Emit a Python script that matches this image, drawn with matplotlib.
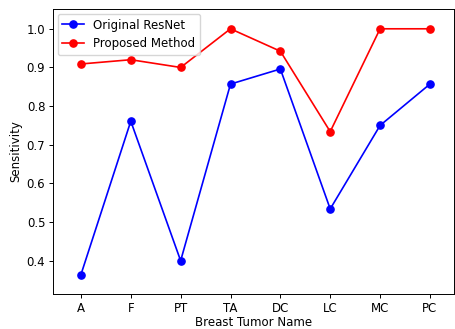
import matplotlib.pyplot as plt

categories = ['A', 'F', 'PT', 'TA', 'DC', 'LC', 'MC', 'PC']
resnet = [0.364, 0.761, 0.400, 0.857, 0.896, 0.534, 0.750, 0.857]
proposed = [0.909, 0.920, 0.900, 1.000, 0.942, 0.734, 1.000, 1.000]

plt.rcParams['font.size'] = 8.5

fig = plt.figure(figsize=(4.55, 3.29), dpi=100)
ax = fig.add_axes([0.1165, 0.1064, 0.881, 0.866])

x = range(len(categories))
ax.plot(x, resnet, 'b-o', lw=1.2, ms=5.2, label='Original ResNet')
ax.plot(x, proposed, 'r-o', lw=1.2, ms=5.2, label='Proposed Method')

ax.set_xticks(list(x))
ax.set_xticklabels(categories)
ax.set_xlim(-0.56, 7.48)
ax.set_ylim(0.314, 1.051)
ax.set_yticks([0.4, 0.5, 0.6, 0.7, 0.8, 0.9, 1.0])
ax.set_xlabel('Breast Tumor Name', labelpad=1)
ax.set_ylabel('Sensitivity', labelpad=3)
ax.tick_params(length=3, width=0.7, pad=2.5)
for s in ax.spines.values():
    s.set_linewidth(0.7)
ax.legend(loc='upper left', borderaxespad=0.4, handlelength=1.8)

fig.savefig('out.png', dpi=100)
